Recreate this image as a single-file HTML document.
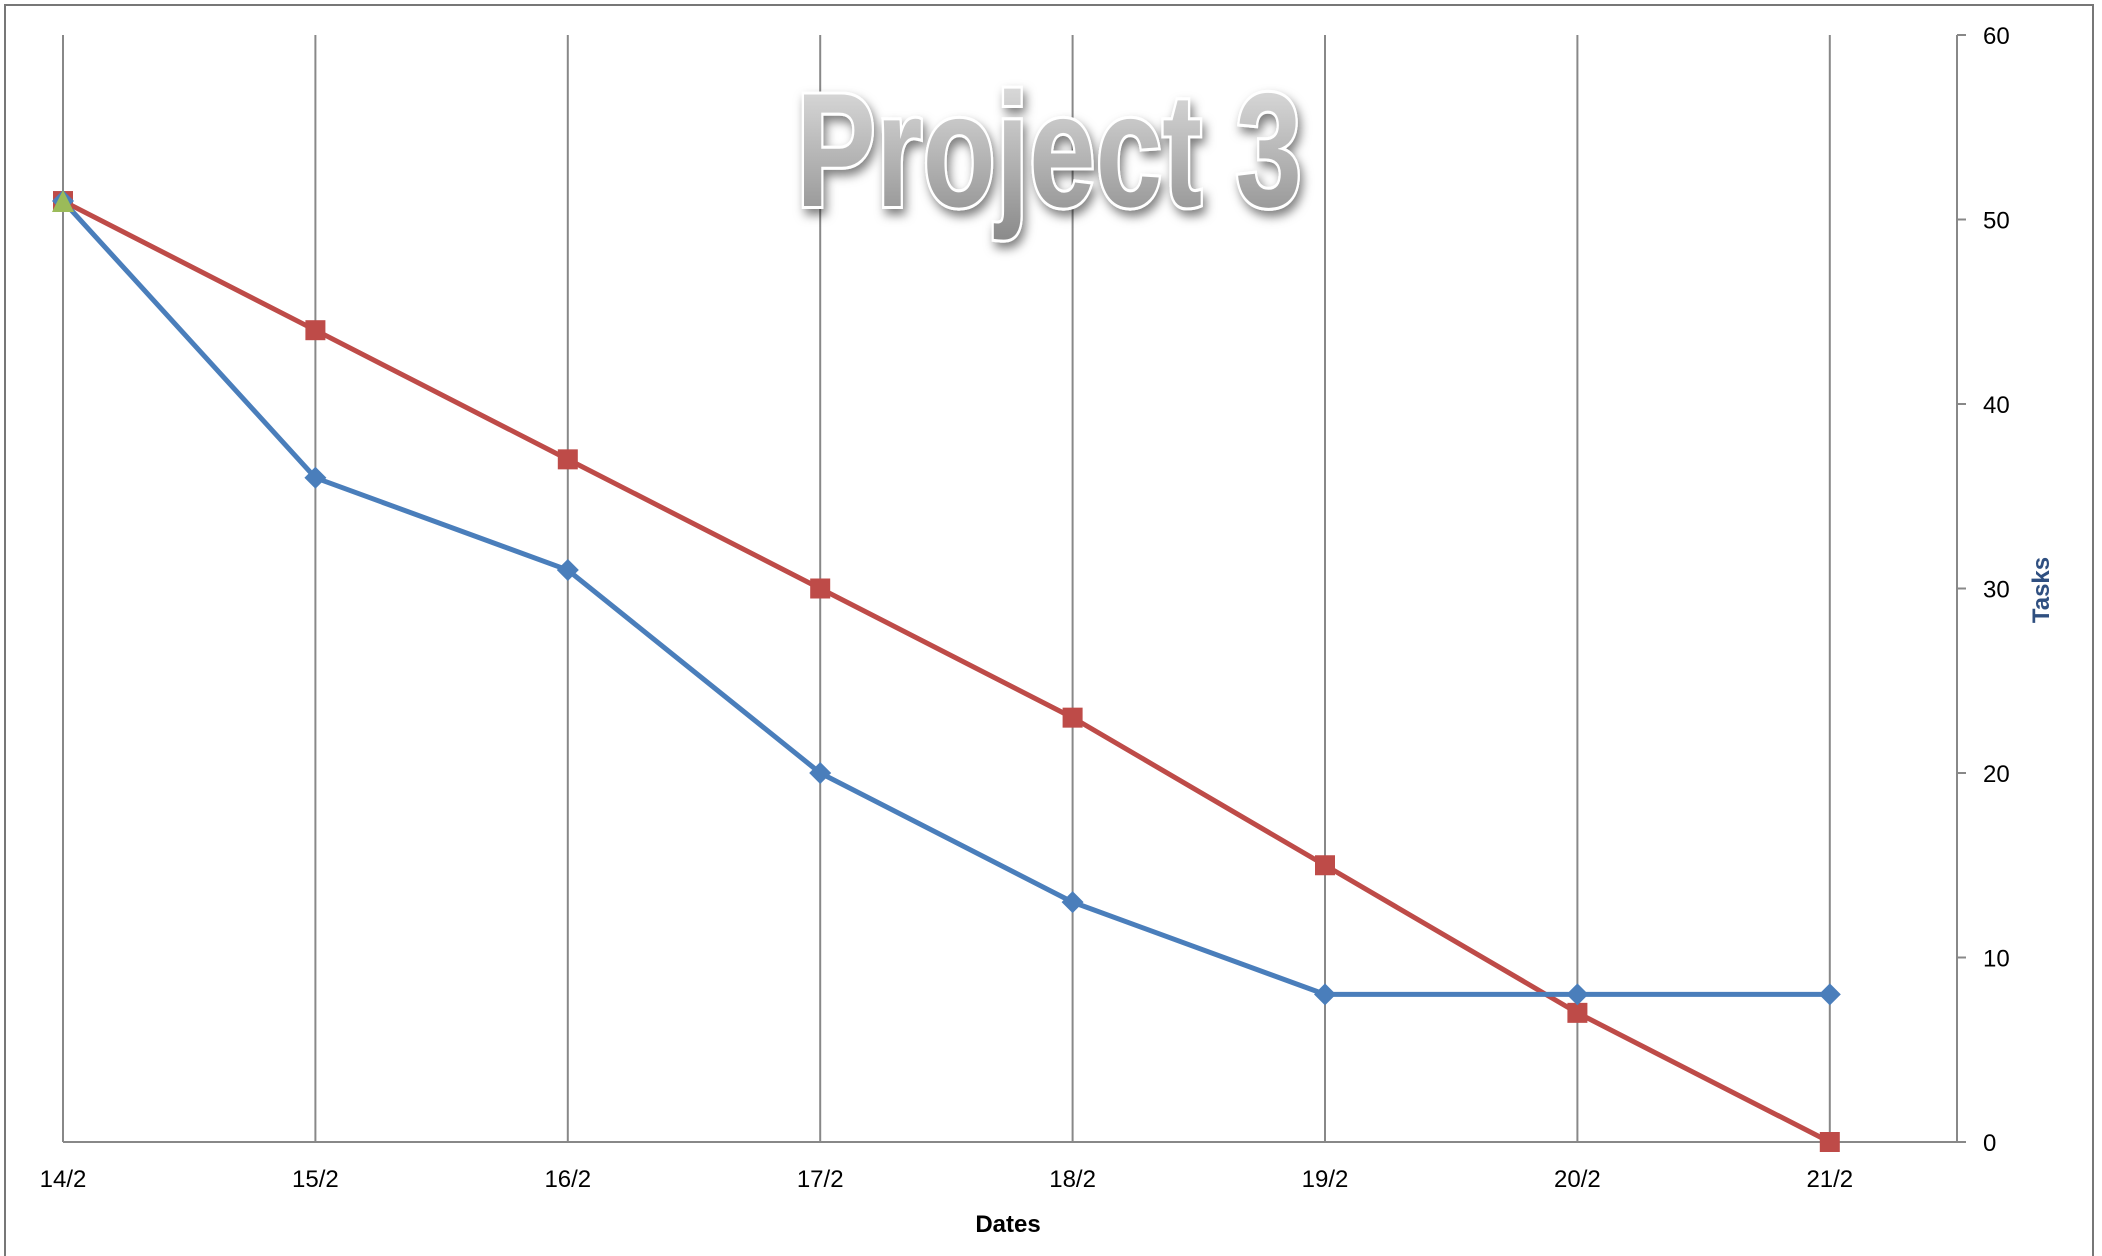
<!DOCTYPE html>
<html><head><meta charset="utf-8"><style>
html,body{margin:0;padding:0;background:#fff;}
svg{display:block;font-family:"Liberation Sans",sans-serif;}
</style></head><body>
<svg id="chart" width="2102" height="1256" viewBox="0 0 2102 1256">
<defs>
<linearGradient id="tg" x1="0" y1="0" x2="0" y2="1">
<stop offset="0" stop-color="#e6e6e6"/><stop offset="1" stop-color="#8a8a8a"/>
</linearGradient>
<filter id="sh" x="-10%" y="-20%" width="120%" height="150%">
<feDropShadow dx="3" dy="6" stdDeviation="5" flood-color="#000" flood-opacity="0.5"/>
</filter>
</defs>
<rect x="5" y="5" width="2088" height="1260" fill="#fff" stroke="#777" stroke-width="2"/>
<g id="grid"></g>
<g id="series"></g>
<g id="labels"></g>
<text x="1049" y="206" text-anchor="middle" font-size="162" font-weight="bold" textLength="506" lengthAdjust="spacingAndGlyphs" fill="url(#tg)" stroke="#fff" stroke-width="6" paint-order="stroke" filter="url(#sh)">Project 3</text>
<text x="1008" y="1232" text-anchor="middle" font-size="24" font-weight="bold" fill="#000">Dates</text>
<text transform="translate(2049,590) rotate(-90)" text-anchor="middle" font-size="24" font-weight="bold" fill="#2f4f80">Tasks</text>
</svg>
<script>
const categories = ["14/2","15/2","16/2","17/2","18/2","19/2","20/2","21/2"];
const idealValues = [51,44,37,30,23,15,7,0];
const actualValues = [51,36,31,20,13,8,8,8];
const startValues = [51];
const yTicks = [0,10,20,30,40,50,60];

const NS="http://www.w3.org/2000/svg";
const x0=63, dx=252.4, yBase=1142, yTop=35, yMax=60, axisRight=1957;
function xs(i){return x0+i*dx;}
function ys(v){return yBase-(v/yMax)*(yBase-yTop);}
function mk(tag,attrs,parent){const e=document.createElementNS(NS,tag);for(const k in attrs)e.setAttribute(k,attrs[k]);parent.appendChild(e);return e;}
const grid=document.getElementById('grid'), ser=document.getElementById('series'), lab=document.getElementById('labels');

categories.forEach((c,i)=>{
  const l=mk('line',{x1:xs(i),x2:xs(i),y1:yTop,y2:yBase,stroke:'#888','stroke-width':2},grid);
  
  
  const t=mk('text',{x:xs(i),y:yBase+45,'text-anchor':'middle','font-size':24,fill:'#000'},lab);
  t.textContent=c;
  
  
});
const xa=mk('line',{x1:x0,x2:axisRight,y1:yBase,y2:yBase,stroke:'#888','stroke-width':2},grid);


const ya=mk('line',{x1:axisRight,x2:axisRight,y1:yTop,y2:yBase,stroke:'#888','stroke-width':2},grid);


yTicks.forEach(v=>{
  mk('line',{x1:axisRight,x2:axisRight+9,y1:ys(v),y2:ys(v),stroke:'#888','stroke-width':2},grid);
  const t=mk('text',{x:1983,y:ys(v)+9,'font-size':24,fill:'#000'},lab);
  t.textContent=v;
  
  
});

function line(vals,color,name){
  const p=mk('polyline',{points:vals.map((v,i)=>xs(i)+','+ys(v)).join(' '),fill:'none',stroke:color,'stroke-width':5,'stroke-linejoin':'round'},ser);
  
  
}
line(idealValues,'#be4b48','ideal-line');
line(actualValues,'#4a7ebb','actual-line');
idealValues.forEach((v,i)=>{
  const r=mk('rect',{x:xs(i)-10,y:ys(v)-10,width:20,height:20,fill:'#be4b48'},ser);
  
  
});
actualValues.forEach((v,i)=>{
  const x=xs(i),y=ys(v);
  const d=mk('polygon',{points:`${x},${y-11} ${x+11},${y} ${x},${y+11} ${x-11},${y}`,fill:'#4a7ebb'},ser);
  
  
});
startValues.forEach((v,i)=>{
  const x=xs(i),y=ys(v);
  const t=mk('polygon',{points:`${x},${y-11} ${x+11},${y+11} ${x-11},${y+11}`,fill:'#9bbb59'},ser);
  
  
});
</script>
</body></html>
